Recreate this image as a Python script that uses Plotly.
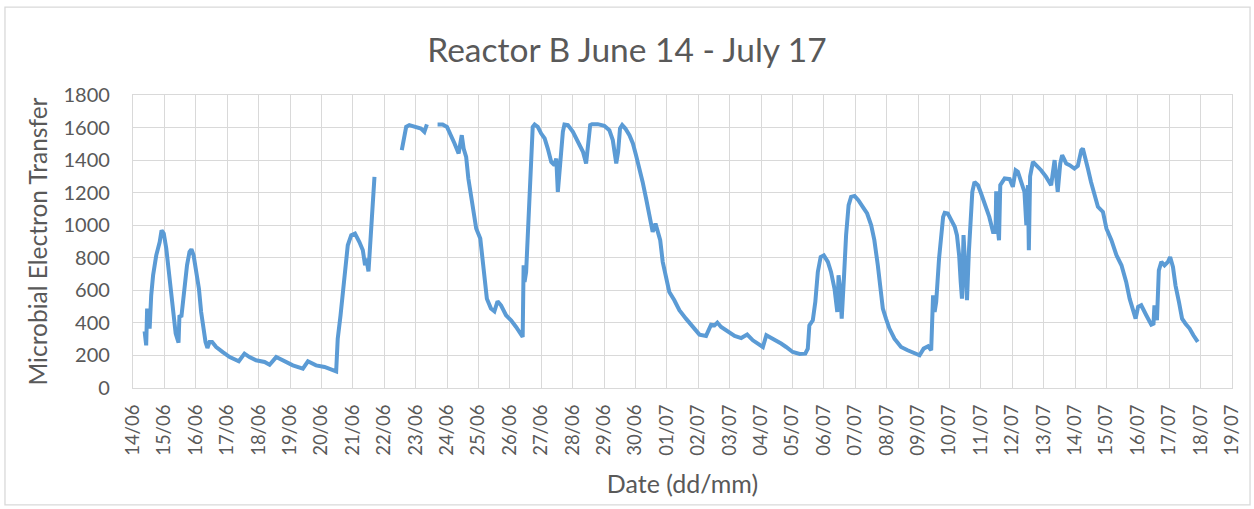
import pandas as pd
import plotly.graph_objects as go

# days since 14/06 00:00 and the reading at that time (None = no data)
days = [
    0.37, 0.42, 0.45, 0.53, 0.58, 0.64, 0.74, 0.85, 0.91, 0.98,
    1.06, 1.17, 1.27, 1.36, 1.45, 1.48, 1.54, 1.64, 1.72, 1.80,
    1.86, 1.93, 2.01, 2.10, 2.17, 2.25, 2.31, 2.37, 2.44, 2.52,
    2.65, 2.86, 3.08, 3.37, 3.55, 3.71, 3.92, 4.19, 4.35, 4.56,
    4.77, 5.09, 5.41, 5.57, 5.83, 6.10, 6.47, 6.52, 6.61, 6.68,
    6.76, 6.84, 6.95, 7.07, 7.21, 7.32, 7.39, 7.43, 7.50, 7.56,
    7.62, 7.66, 7.69, 8.10,
    8.56, 8.62, 8.70, 8.80, 9.01, 9.17, 9.28, 9.33, 9.36, 9.50,
    9.70, 9.86, 10.00, 10.13, 10.24, 10.37, 10.47, 10.53, 10.61, 10.68,
    10.76, 10.85, 10.93, 11.06, 11.14, 11.19, 11.27, 11.40, 11.51, 11.61,
    11.72, 11.88, 12.04, 12.20, 12.41, 12.44, 12.47, 12.52, 12.58, 12.63,
    12.69, 12.73, 12.79, 12.89, 13.00, 13.11, 13.21, 13.32, 13.42, 13.48,
    13.53, 13.58, 13.64, 13.69, 13.74, 13.85, 14.01, 14.17, 14.33, 14.43,
    14.51, 14.56, 14.62, 14.80, 15.01, 15.17, 15.28, 15.39, 15.45, 15.51,
    15.58, 15.68, 15.81, 15.92, 16.02, 16.13, 16.23, 16.34, 16.45, 16.55,
    16.64, 16.71, 16.79, 16.87, 16.98, 17.08, 17.24, 17.40, 17.61, 17.83,
    18.04, 18.25, 18.41, 18.52, 18.61, 18.73, 18.95, 19.16, 19.37, 19.56,
    19.74, 19.90, 20.06, 20.17, 20.27, 20.43, 20.64, 20.80, 21.01, 21.23,
    21.41, 21.49, 21.54, 21.65, 21.73, 21.81, 21.90, 22.00, 22.13, 22.23,
    22.34, 22.43, 22.47, 22.53, 22.57, 22.64, 22.71, 22.79, 22.87, 22.98,
    23.10, 23.24, 23.38, 23.51, 23.61, 23.72, 23.80, 23.88, 23.98, 24.09,
    24.25, 24.46, 24.67, 24.89, 25.05, 25.18, 25.32, 25.42, 25.48, 25.53,
    25.58, 25.67, 25.74, 25.80, 25.85, 25.95, 26.06, 26.17, 26.24, 26.31,
    26.36, 26.40, 26.45, 26.50, 26.56, 26.62, 26.68, 26.73, 26.80, 26.91,
    27.01, 27.15, 27.27, 27.39, 27.47, 27.49, 27.53, 27.58, 27.62, 27.76,
    27.92, 28.02, 28.11, 28.18, 28.29, 28.39, 28.45, 28.50, 28.53, 28.57,
    28.66, 28.76, 28.92, 29.08, 29.24, 29.35, 29.45, 29.53, 29.59, 29.67,
    29.72, 29.83, 29.98, 30.09, 30.20, 30.25, 30.33, 30.41, 30.51, 30.62,
    30.73, 30.89, 31.00, 31.16, 31.32, 31.48, 31.63, 31.74, 31.85, 31.93,
    32.01, 32.11, 32.27, 32.43, 32.50, 32.53, 32.61, 32.67, 32.75, 32.85,
    32.96, 33.03, 33.12, 33.20, 33.31, 33.41, 33.52, 33.65, 33.77, 33.91,
]

transfer = [
    348, 262, 488, 365, 570, 693, 815, 897, 969, 949,
    857, 672, 467, 334, 279, 447, 436, 610, 754, 836,
    852, 815, 713, 610, 467, 344, 283, 246, 283, 283,
    252, 221, 190, 164, 211, 190, 170, 160, 143, 190,
    170, 139, 119, 164, 139, 129, 102, 303, 447, 590,
    713, 877, 939, 949, 897, 846, 754, 795, 717, 897,
    1082, 1266, 1297, None,
    1461, 1533, 1604, 1615, 1604, 1594, 1574, 1604, 1619, None,
    1619, 1619, 1604, 1553, 1502, 1441, 1553, 1471, 1420, 1287,
    1184, 1082, 980, 918, 775, 652, 549, 488, 471, 533,
    508, 447, 416, 375, 314, 754, 652, 713, 980, 1246,
    1451, 1604, 1619, 1604, 1563, 1533, 1471, 1389, 1369, 1410,
    1205, 1328, 1451, 1574, 1619, 1615, 1574, 1512, 1451, 1379,
    1553, 1615, 1621, 1621, 1611, 1584, 1523, 1379, 1451, 1594,
    1615, 1594, 1553, 1502, 1430, 1348, 1266, 1164, 1061, 959,
    1010, 959, 908, 775, 672, 590, 539, 478, 426, 375,
    328, 320, 389, 385, 402, 375, 344, 320, 307, 328,
    293, 273, 252, 324, 314, 293, 273, 252, 221, 209,
    211, 242, 385, 416, 529, 713, 805, 815, 775, 713,
    611, 467, 693, 590, 426, 672, 939, 1123, 1174, 1180,
    1154, 1113, 1072, 1000, 908, 754, 590, 488, 426, 365,
    303, 252, 232, 215, 201, 242, 256, 232, 570, 467,
    529, 795, 959, 1051, 1076, 1072, 1031, 990, 939, 816,
    652, 549, 939, 713, 539, 836, 1041, 1205, 1266, 1246,
    1195, 1123, 1051, 959, 959, 1209, 1000, 908, 1246, 1287,
    1283, 1236, 1338, 1328, 1266, 1205, 1000, 1246, 846, 1300,
    1389, 1369, 1338, 1297, 1246, 1400, 1205, 1379, 1430, 1400,
    1379, 1369, 1348, 1365, 1461, 1471, 1420, 1348, 1266, 1184,
    1113, 1082, 980, 908, 816, 754, 652, 549, 467, 426,
    498, 508, 447, 389, 395, 508, 416, 723, 775, 754,
    775, 805, 744, 631, 529, 426, 395, 365, 324, 283,
]

start = pd.Timestamp("2017-06-14")
end = pd.Timestamp("2017-07-19")
times = start + pd.to_timedelta(days, unit="D")

GREY = "#595959"
GRID = "#d9d9d9"
FONT = "Lato"

fig = go.Figure()
fig.add_trace(
    go.Scatter(
        x=times, y=transfer, mode="lines", connectgaps=False,
        line=dict(color="#5b9bd5", width=4),
        showlegend=False,
    )
)

# light frame round the whole chart, as in the spreadsheet export
fig.add_shape(
    type="rect", xref="paper", yref="paper",
    x0=-0.1165, x1=1.0164, y0=-0.399, y1=1.300,
    line=dict(color=GRID, width=1.3), fillcolor="rgba(0,0,0,0)",
    layer="below",
)

fig.update_layout(
    width=1254, height=509,
    paper_bgcolor="white", plot_bgcolor="white",
    margin=dict(l=133, r=22, t=95, b=121),
    font=dict(family=FONT, color=GREY),
    title=dict(
        text="Reactor B June 14 - July 17",
        x=0.5, xanchor="center", y=0.902, yanchor="middle",
        font=dict(size=33.5, color=GREY, family=FONT),
    ),
    xaxis=dict(
        type="date", range=[start, end],
        dtick=86400000, tick0=start, tickformat="%d/%m",
        tickangle=-90, tickfont=dict(size=18.5, color=GREY),
        showgrid=True, gridcolor=GRID, gridwidth=1.3,
        showline=True, linecolor=GRID, linewidth=1.3, mirror=True,
        ticks="", ticklabelstandoff=8,
        title=dict(text="Date (dd/mm)", font=dict(size=25, color=GREY), standoff=20),
        zeroline=False,
    ),
    yaxis=dict(
        range=[0, 1800], dtick=200,
        tickfont=dict(size=20, color=GREY),
        showgrid=True, gridcolor=GRID, gridwidth=1.3,
        showline=True, linecolor=GRID, linewidth=1.3, mirror=True,
        ticks="", ticklabelstandoff=18,
        title=dict(text="Microbial Electron Transfer", font=dict(size=24.5, color=GREY), standoff=8),
        zeroline=False,
    ),
)

# page margin off so the figure sits at the window's top-left corner
fig.write_html(
    "out.html",
    config={"displayModeBar": False},
    post_script="document.body.style.margin='0';",
)
